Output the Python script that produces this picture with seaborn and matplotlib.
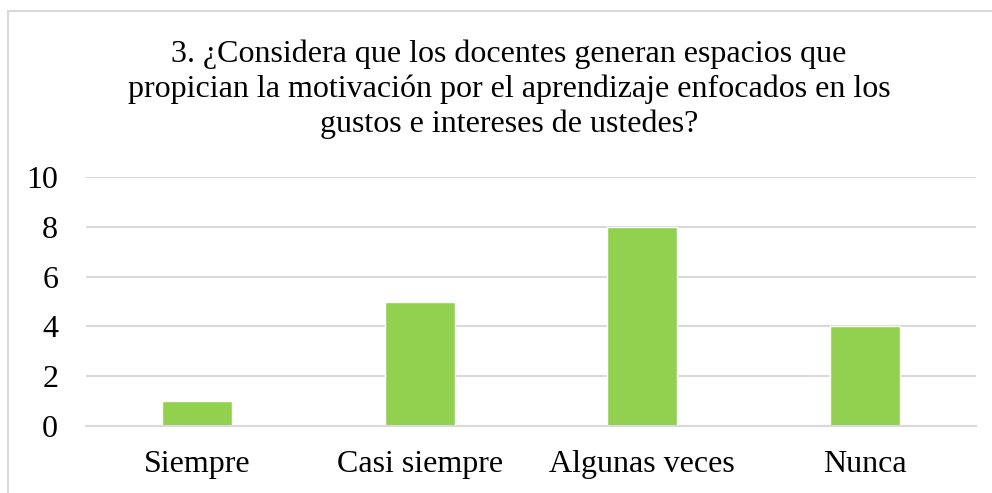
import matplotlib
matplotlib.use('Agg')
import matplotlib.pyplot as plt
import seaborn as sns
import pandas as pd
from matplotlib.patches import Rectangle

categories = ['Siempre', 'Casi siempre', 'Algunas veces', 'Nunca']
values = [1, 5, 8, 4]
yticks = [0, 2, 4, 6, 8, 10]
title = ('3. ¿Considera que los docentes generan espacios que\n'
         'propician la motivación por el aprendizaje enfocados en los\n'
         'gustos e intereses de ustedes?')

df = pd.DataFrame({'cat': categories, 'val': values})

sns.set_style('white')
plt.rcParams['font.family'] = ['Liberation Serif', 'DejaVu Serif']

fig = plt.figure(figsize=(9.92, 4.93), dpi=100)
ax = fig.add_axes([86 / 992, 1 - 426 / 493, (976 - 86) / 992, (426 - 177) / 493])

sns.barplot(data=df, x='cat', y='val', color='#92D050', width=0.315,
            saturation=1, ax=ax)

ax.set_ylim(0, 10)
ax.set_yticks(yticks)
ax.set_xlim(-0.5, 3.5)
ax.yaxis.grid(True, color='#D9D9D9', linewidth=1.5)
ax.set_axisbelow(True)
for s in ['top', 'right', 'left']:
    ax.spines[s].set_visible(False)
ax.spines['bottom'].set_color('#D9D9D9')
ax.spines['bottom'].set_linewidth(1.5)
ax.tick_params(axis='both', length=0, labelsize=23, colors='black')
ax.tick_params(axis='x', pad=17)
ax.tick_params(axis='y', pad=20)
ax.set_xlabel('')
ax.set_ylabel('')

fig.text(509 / 992, 1 - 89 / 493, title, ha='center', va='center',
         fontsize=23, linespacing=1.25, color='black')

# chart border (right and bottom edges fall outside the image)
fig.patches.append(Rectangle((8 / 992, -0.1), 1.0, 1.1 - 11 / 493,
                             transform=fig.transFigure, fill=False,
                             edgecolor='#D9D9D9', linewidth=1.5))

fig.savefig('out.png', dpi=100)
